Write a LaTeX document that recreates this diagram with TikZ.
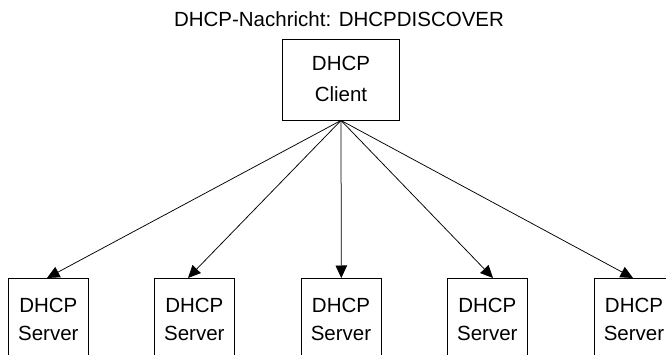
\documentclass[tikz,border=0pt]{standalone}
\usepackage{fontspec}
\setmainfont{Liberation Sans}
\usetikzlibrary{arrows.meta,calc}
\begin{document}
\begin{tikzpicture}[x=1pt,y=-1pt,
  txt/.style={anchor=base,inner sep=0pt,font=\fontsize{20.5}{24}\selectfont},
  box/.style={draw,line width=0.8pt,inner sep=0pt},
  client/.style={box,minimum width=116.5,minimum height=80.7},
  server/.style={box,minimum width=80,minimum height=90},
  link/.style={line width=0.75pt,-{Triangle[length=12.5pt,width=11.5pt]}}]
  \clip (0,0) rectangle (666,355);
  % title
  \node[txt] (title) at (339,26.7) {DHCP-Nachricht: DHCPDISCOVER};
  % client box
  \node[client] (c) at (341,79.7) {};
  \node[txt] (c1) at (341,71) {DHCP};
  \node[txt] (c2) at (341,101.5) {Client};
  % server boxes (bottoms run off the page)
  \foreach \i/\x in {1/48.3,2/194.3,3/341,4/487.3,5/634}{
    \node[server,anchor=north] (s\i) at (\x,278) {};
    \node[txt] (s\i a) at (\x,312.3) {DHCP};
    \node[txt] (s\i b) at (\x,340) {Server};
  }
  % broadcast arrows
  \foreach \s/\d in {s1/-1.3,s2/-6.3,s3/0.3,s4/5.7,s5/-1}
    \draw[link] (c.south) -- ($(\s.north)+(\d,0)$);
\end{tikzpicture}
\end{document}
